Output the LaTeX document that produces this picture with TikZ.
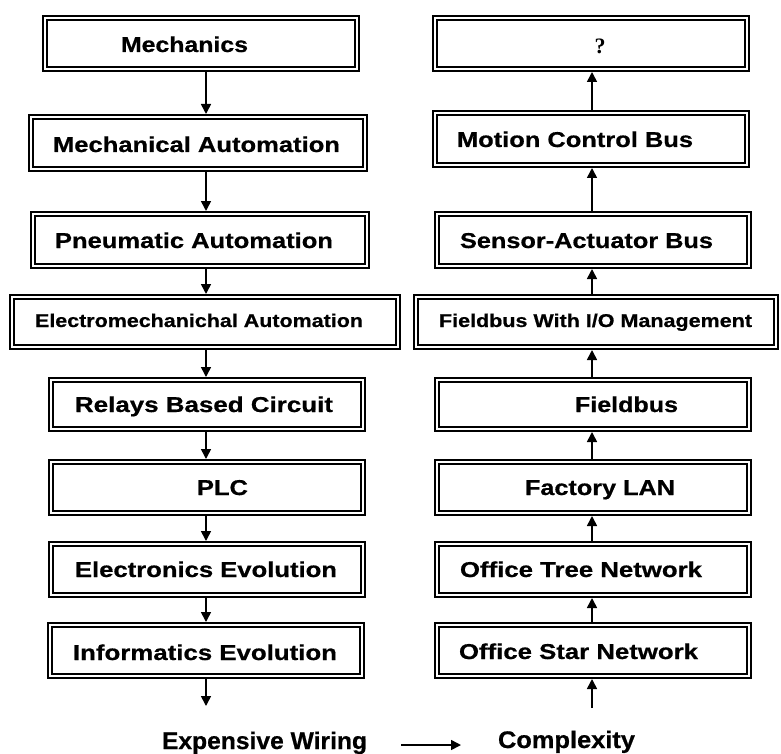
\documentclass[tikz,border=0pt]{standalone}
\usepackage{fontspec}
\usepackage{graphicx}
\setmainfont[BoldFeatures={FakeBold=0.6}]{Liberation Sans}
\newfontfamily\qfont{Liberation Serif}
\usetikzlibrary{arrows.meta}

% stretch a label to a given width (in pt), keeping its natural height
\newcommand\fitw[2]{\resizebox{#1pt}{\height}{#2}}
% double-ruled box given by its outer corners (x1,y1) and (x2,y2)
\newcommand\mkbox[5]{%
  \node[dbox, minimum width={(#4-#2-6)*1pt}, minimum height={(#5-#3-6)*1pt}]
    (#1) at ({(#2+#4)/2},{(#3+#5)/2}) {};}

\tikzset{
  dbox/.style={rectangle, draw=black, line width=1.8pt, double=white,
               double distance=2.4pt, inner sep=0pt, outer sep=0pt},
  lbl/.style={anchor=base, inner sep=0pt, font=\bfseries\fontsize{21.5}{24}\selectfont},
  lblsmall/.style={lbl, font=\bfseries\fontsize{18.5}{21}\selectfont},
  lblfoot/.style={lbl, font=\bfseries\fontsize{24}{27}\selectfont},
  arr/.style={line width=1.6pt, -{Triangle[length=10pt,width=10pt]},
              shorten <=3pt, shorten >=3pt},
  arrfree/.style={line width=1.6pt, -{Triangle[length=10pt,width=10pt]}}
}

\begin{document}
\begin{tikzpicture}[x=1pt, y=-1pt]
\useasboundingbox[fill=white] (0,0) rectangle (781,754);

% column axes for the connectors
\coordinate (axL) at (206,0);
\coordinate (axR) at (592,0);

% ---------- left column: automation evolution ----------
\mkbox{l1}{42}{15}{360}{72}
\mkbox{l2}{28}{114}{368}{172}
\mkbox{l3}{30}{211}{370}{269}
\mkbox{l4}{9}{294}{401}{350}
\mkbox{l5}{48}{377}{366}{432}
\mkbox{l6}{48}{459}{366}{516}
\mkbox{l7}{48}{541}{366}{598}
\mkbox{l8}{47}{622}{365}{679}

\node[lbl] (t1) at (184.5,52) {\fitw{127}{Mechanics}};
\node[lbl] (t2) at (196.5,152) {\fitw{287}{Mechanical Automation}};
\node[lbl] (t3) at (194,248) {\fitw{278}{Pneumatic Automation}};
\node[lblsmall] (t4) at (199,327) {\fitw{328}{Electromechanichal Automation}};
\node[lbl] (t5) at (204,412) {\fitw{258}{Relays Based Circuit}};
\node[lbl] (t6) at (222.5,495) {\fitw{51}{PLC}};
\node[lbl] (t7) at (206,577) {\fitw{262}{Electronics Evolution}};
\node[lbl] (t8) at (205,660) {\fitw{264}{Informatics Evolution}};

\foreach \a/\b in {l1/l2,l2/l3,l3/l4,l4/l5,l5/l6,l6/l7,l7/l8}
  \draw[arr] (\a.south -| axL) -- (\b.north -| axL);
\coordinate (lend) at (206,706);
\draw[arr, shorten >=0pt] (l8.south -| axL) -- (lend);

% ---------- right column: communication evolution ----------
\mkbox{r1}{432}{15}{750}{72}
\mkbox{r2}{432}{110}{750}{168}
\mkbox{r3}{434}{211}{752}{269}
\mkbox{r4}{413}{294}{779}{350}
\mkbox{r5}{434}{377}{752}{432}
\mkbox{r6}{434}{459}{752}{516}
\mkbox{r7}{434}{541}{752}{598}
\mkbox{r8}{434}{622}{752}{679}

\node[anchor=base, inner sep=0pt, font=\qfont\bfseries\fontsize{22}{24}\selectfont] (s1) at (600,54) {?};
\node[lbl] (s2) at (575,147) {\fitw{236}{Motion Control Bus}};
\node[lbl] (s3) at (586.5,248) {\fitw{253}{Sensor-Actuator Bus}};
\node[lblsmall] (s4) at (595.5,327) {\fitw{313}{Fieldbus With I/O Management}};
\node[lbl] (s5) at (626.5,412) {\fitw{103}{Fieldbus}};
\node[lbl] (s6) at (600,495) {\fitw{150}{Factory LAN}};
\node[lbl] (s7) at (581,577) {\fitw{242}{Office Tree Network}};
\node[lbl] (s8) at (578.5,659) {\fitw{239}{Office Star Network}};

\foreach \a/\b in {r8/r7,r7/r6,r6/r5,r5/r4,r4/r3,r3/r2,r2/r1}
  \draw[arr] (\a.north -| axR) -- (\b.south -| axR);
\coordinate (rstart) at (592,708);
\draw[arr, shorten <=0pt] (rstart) -- (r8.south -| axR);

% ---------- footer ----------
\node[lblfoot] (ew) at (264.5,749) {\fitw{205}{Expensive Wiring}};
\node[lblfoot] (cx) at (566.5,748) {\fitw{137}{Complexity}};
\coordinate (fa) at (401,745);
\coordinate (fb) at (461,745);
\draw[arrfree] (fa) -- (fb);
\end{tikzpicture}
\end{document}
